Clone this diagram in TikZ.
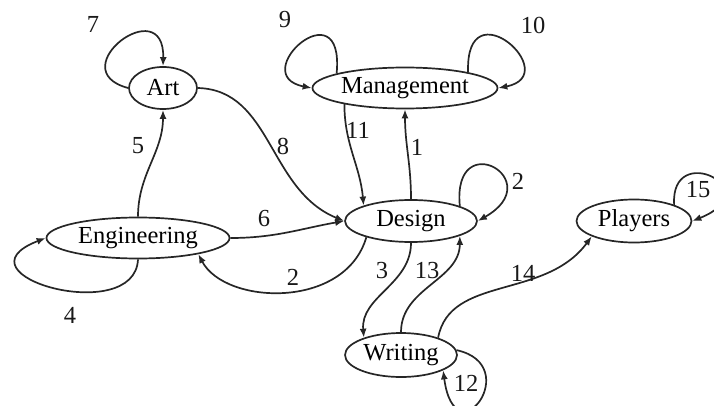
\documentclass[tikz,border=0pt]{standalone}
\usepackage{fontspec}
\setmainfont{Liberation Serif}
\usetikzlibrary{shapes.geometric,arrows.meta}
\begin{document}
\begin{tikzpicture}[x=1pt,y=1pt,
  font=\fontsize{24.5}{28}\selectfont,
  state/.style={ellipse,draw=black!85,line width=1.7pt,inner sep=0pt},
  edge/.style={draw=black!85,line width=1.7pt,-{Latex[length=9pt,width=7pt]}},
  lbl/.style={inner sep=0pt,text=black!90}]
\useasboundingbox (0,0) rectangle (714,405);
% nodes
\node[state,minimum width=68pt,minimum height=42pt] (art) at (163,317) {Art};
\node[state,minimum width=185pt,minimum height=41pt] (mgmt) at (405,317) {Management};
\node[state,minimum width=183pt,minimum height=41pt] (eng) at (138,167) {Engineering};
\node[state,minimum width=132pt,minimum height=42pt] (design) at (411,184) {Design};
\node[state,minimum width=115pt,minimum height=43pt] (players) at (634,184) {Players};
\node[state,minimum width=112pt,minimum height=44pt] (writing) at (401,50) {Writing};
% edges
\draw[edge] (design.north) to[out=90,in=-90] (mgmt.south);
\draw[edge] (mgmt.195) to[out=-90,in=95] (design.162);
\draw[edge] (mgmt.168) .. controls (345,420) and (245,330) .. (mgmt.west);
\draw[edge] (mgmt.14) .. controls (465,420) and (565,330) .. (mgmt.east);
\draw[edge] (art.west) .. controls (60,335) and (165,415) .. (art.north);
\draw[edge] (eng.north) to[out=90,in=-90] (art.south);
\draw[edge] (art.east) .. controls (272,315) and (268,215) .. (design.west);
\draw[edge] (eng.east) to[out=0,in=190] (design.west);
\draw[edge] (design.200) .. controls (345,95) and (225,100) .. (eng.-15);
\draw[edge] (eng.south) .. controls (135,78) and (-50,130) .. (eng.west);
\draw[edge] (design.17) .. controls (452,280) and (550,225) .. (design.east);
\draw[edge] (design.south) to[out=-90,in=95] (writing.155);
\draw[edge] (writing.north) to[out=90,in=-90] (design.-17);
\draw[edge] (writing.25) .. controls (450,130) and (545,105) .. (players.200);
\draw[edge] (writing.5) .. controls (525,40) and (455,-55) .. (writing.-20);
\draw[edge] (players.22) .. controls (670,265) and (770,215) .. (players.east);
% labels
\node[lbl] (l1) at (417,258) {1};
\node[lbl] (l11) at (358,275) {11};
\node[lbl] (l9) at (285,385) {9};
\node[lbl] (l10) at (533,380) {10};
\node[lbl] (l7) at (93,381) {7};
\node[lbl] (l5) at (138,259) {5};
\node[lbl] (l8) at (283,259) {8};
\node[lbl] (l6) at (264,186) {6};
\node[lbl] (l2a) at (293,128) {2};
\node[lbl] (l4) at (70,90) {4};
\node[lbl] (l2b) at (518,224) {2};
\node[lbl] (l3) at (382,134) {3};
\node[lbl] (l13) at (427,134) {13};
\node[lbl] (l14) at (523,132) {14};
\node[lbl] (l12) at (466,22) {12};
\node[lbl] (l15) at (698,215) {15};
\end{tikzpicture}
\end{document}
